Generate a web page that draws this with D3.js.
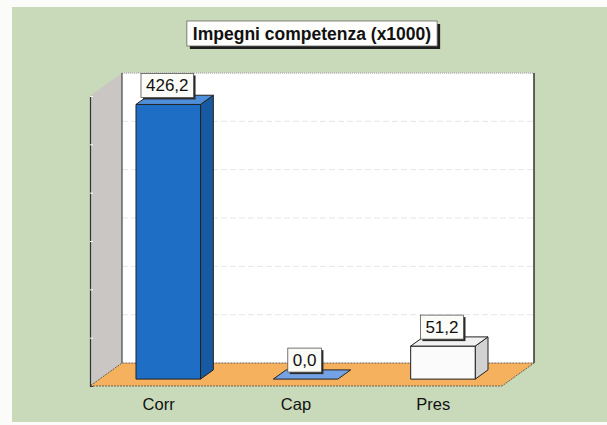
<!DOCTYPE html>
<html>
<head>
<meta charset="utf-8">
<script src="https://cdn.jsdelivr.net/npm/d3@7"></script>
<style>
  html, body { margin: 0; padding: 0; background: #fbfbf9; }
  svg { display: block; font-family: Arial, 'Liberation Sans', sans-serif; }
</style>
</head>
<body>
<div id="chart"></div>
<script>
// chart values
var categories = ['Corr', 'Cap', 'Pres'];
var values = [426.2, 0.0, 51.2];
var yTicks = [75, 150, 225, 300, 375, 450];
var title = 'Impegni competenza (x1000)';

var width = 607;
var height = 425;

// 3d box geometry
var frontX0 = 90, frontX1 = 502;
var baseY = 386;          // floor front edge
var depthX = 32, depthY = 23;
var barZ0 = 0.3, barZ1 = 0.7;

var fills = {
  Corr: { front: '#1f6ec6', side: '#175aa2', top: '#4f8fda' },
  Cap:  { front: '#1f6ec6', side: '#175aa2', top: '#74a2e4' },
  Pres: { front: '#fbfbfb', side: '#d2d2d2', top: '#f1f1f1' }
};

var itFormat = d3.formatLocale({ decimal: ',', thousands: '.', grouping: [3], currency: ['', '€'] }).format('.1f');

var svg = d3.select('#chart').append('svg')
  .attr('width', width)
  .attr('height', height);

svg.append('rect')
  .attr('x', 12).attr('y', 7)
  .attr('width', width - 12).attr('height', 415)
  .attr('fill', '#c8dab9');

var x = d3.scaleBand()
  .domain(categories)
  .range([frontX0, frontX1])
  .paddingInner(0.53)
  .paddingOuter(0.265);

var h = d3.scaleLinear().domain([0, 450]).range([0, 290]);

function pt(xf, v, z) {
  return [xf + depthX * z, baseY - depthY * z - h(v)];
}
function poly(points) {
  return points.map(function(p) { return p.join(','); }).join(' ');
}

// back wall
var back = svg.append('g');
back.append('polygon')
  .attr('points', poly([pt(frontX0, 450, 1), pt(frontX1, 450, 1), pt(frontX1, 0, 1), pt(frontX0, 0, 1)]))
  .attr('fill', '#ffffff');

back.selectAll('.grid')
  .data(yTicks)
  .enter().append('line')
  .attr('class', 'grid')
  .attr('x1', frontX0 + depthX).attr('x2', frontX1 + depthX)
  .attr('y1', function(d) { return pt(0, d, 1)[1]; })
  .attr('y2', function(d) { return pt(0, d, 1)[1]; })
  .attr('stroke', '#e6e6e6')
  .attr('stroke-dasharray', '6,3');

back.append('line')
  .attr('x1', frontX0 + depthX).attr('x2', frontX1 + depthX)
  .attr('y1', pt(0, 450, 1)[1]).attr('y2', pt(0, 450, 1)[1])
  .attr('stroke', '#9a9a9a').attr('stroke-dasharray', '1,1');

back.append('line')
  .attr('x1', frontX1 + depthX).attr('x2', frontX1 + depthX)
  .attr('y1', pt(0, 450, 1)[1]).attr('y2', pt(0, 0, 1)[1])
  .attr('stroke', '#333').attr('stroke-width', 1.5);

// left wall
svg.append('polygon')
  .attr('points', poly([pt(frontX0, 450, 0), pt(frontX0, 450, 1), pt(frontX0, 0, 1), pt(frontX0, 0, 0)]))
  .attr('fill', '#cac6c4');

svg.append('line')
  .attr('x1', frontX0 + depthX).attr('x2', frontX0 + depthX)
  .attr('y1', pt(0, 450, 1)[1]).attr('y2', pt(0, 0, 1)[1])
  .attr('stroke', '#444').attr('stroke-width', 1.2);

// floor
svg.append('polygon')
  .attr('points', poly([pt(frontX0, 0, 0), pt(frontX1, 0, 0), pt(frontX1, 0, 1), pt(frontX0, 0, 1)]))
  .attr('fill', '#f6b15f')
  .attr('stroke', '#444')
  .attr('stroke-width', 0.8)
  .attr('stroke-dasharray', '2,1');

// value axis on the front edge of the left wall
var yFront = d3.scaleLinear().domain([0, 450]).range([baseY, baseY - 290]);
var axis = svg.append('g')
  .attr('transform', 'translate(' + frontX0 + ',0)')
  .call(d3.axisLeft(yFront).tickValues(yTicks).tickSize(-3).tickFormat(''));
axis.select('.domain').attr('stroke', '#333').attr('stroke-width', 1.2);
axis.selectAll('.tick line').attr('stroke', '#fff');

// bars
var bars = svg.append('g')
  .selectAll('.bar')
  .data(categories)
  .enter().append('g')
  .attr('class', 'bar');

bars.each(function(c, i) {
  var g = d3.select(this);
  var v = values[i];
  var x0 = x(c), x1 = x(c) + x.bandwidth();
  var f = fills[c];
  if (v > 0) {
    g.append('polygon')
      .attr('points', poly([pt(x1, 0, barZ0), pt(x1, 0, barZ1), pt(x1, v, barZ1), pt(x1, v, barZ0)]))
      .attr('fill', f.side).attr('stroke', '#222').attr('stroke-width', 1);
    g.append('polygon')
      .attr('points', poly([pt(x0, 0, barZ0), pt(x1, 0, barZ0), pt(x1, v, barZ0), pt(x0, v, barZ0)]))
      .attr('fill', f.front).attr('stroke', '#222').attr('stroke-width', 1);
  }
  g.append('polygon')
    .attr('points', poly([pt(x0, v, barZ0), pt(x1, v, barZ0), pt(x1, v, barZ1), pt(x0, v, barZ1)]))
    .attr('fill', f.top).attr('stroke', '#222').attr('stroke-width', 1);
});

// value labels
bars.each(function(c, i) {
  var g = d3.select(this);
  var v = values[i];
  var top = pt(x(c), v, barZ0)[1];
  var cx = x(c) + x.bandwidth() / 2 + depthX * barZ0 - 1;
  var lab = g.append('g');
  var t = lab.append('text')
    .attr('x', cx)
    .attr('text-anchor', 'middle')
    .attr('font-size', 17)
    .attr('fill', '#111')
    .text(itFormat(v));
  var w = t.node().getComputedTextLength() + 10;
  var bh = 24;
  var by = top - 7 - bh;
  lab.insert('rect', 'text')
    .attr('x', cx - w / 2 + 2).attr('y', by + 2)
    .attr('width', w).attr('height', bh)
    .attr('fill', '#2a2a2a');
  lab.insert('rect', 'text')
    .attr('x', cx - w / 2).attr('y', by)
    .attr('width', w).attr('height', bh)
    .attr('fill', '#fbfbf7').attr('stroke', '#555').attr('stroke-width', 0.8);
  t.attr('y', by + bh / 2 + 6);
});

// category labels
svg.selectAll('.cat')
  .data(categories)
  .enter().append('text')
  .attr('class', 'cat')
  .attr('x', function(d) { return x(d) + x.bandwidth() / 2; })
  .attr('y', 410)
  .attr('text-anchor', 'middle')
  .attr('font-size', 16.5)
  .attr('fill', '#111')
  .text(function(d) { return d; });

// title
var tg = svg.append('g');
var tt = tg.append('text')
  .attr('x', 312)
  .attr('y', 40)
  .attr('text-anchor', 'middle')
  .attr('font-size', 17.5)
  .attr('font-weight', 'bold')
  .attr('fill', '#111')
  .text(title);
var tw = tt.node().getComputedTextLength() + 12;
tg.insert('rect', 'text')
  .attr('x', 312 - tw / 2 + 3).attr('y', 24)
  .attr('width', tw).attr('height', 25)
  .attr('fill', '#1e1e1e');
tg.insert('rect', 'text')
  .attr('x', 312 - tw / 2).attr('y', 21)
  .attr('width', tw).attr('height', 25)
  .attr('fill', '#fdfdfb').attr('stroke', '#666').attr('stroke-width', 0.8);
</script>
</body>
</html>
